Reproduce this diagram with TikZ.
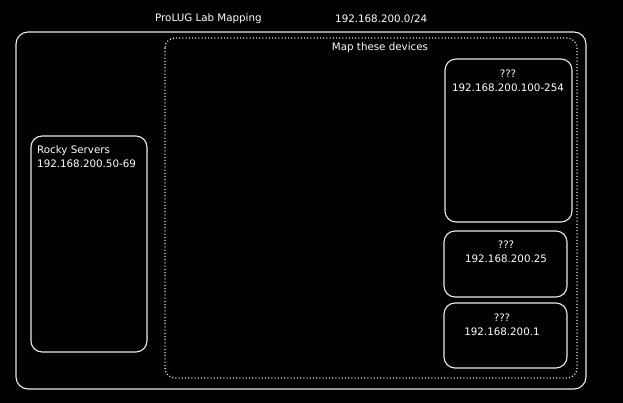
\documentclass[tikz,border=0pt]{standalone}
\usepackage{fontspec}
\setmainfont{DejaVu Sans}
\begin{document}
\begin{tikzpicture}[x=1pt,y=-1pt,
  every node/.style={text=white,font=\fontsize{10.3}{14}\selectfont,inner sep=0pt},
  frame/.style={draw=white!92!black,line width=1.1pt,rounded corners=12pt},
  dev/.style={draw=white!92!black,line width=1.1pt,rounded corners=11pt},
  dots/.style={draw=white!92!black,line width=1.3pt,dash pattern=on 1pt off 2.2pt,rounded corners=10pt}]
\fill[black] (0,0) rectangle (623,403);
\useasboundingbox (0,0) rectangle (623,403);
\node[anchor=west] (title) at (155,19) {ProLUG Lab Mapping};
\node[anchor=west] (net) at (335,19) {192.168.200.0/24};
\draw[frame] (16,32) rectangle (586,389);
\draw[dots] (165,38) rectangle (577,378);
\node (map) at (380,48) {Map these devices};
\draw[dev] (31,136) rectangle (147,352);
\node[anchor=west,align=left] (rocky) at (37,157) {Rocky Servers\\192.168.200.50-69};
\draw[dev] (445,59) rectangle (572,222);
\node[align=center] (d1) at (508,81) {???\\192.168.200.100-254};
\draw[dev] (444,231) rectangle (567,297);
\node[align=center] (d2) at (506,252) {???\\192.168.200.25};
\draw[dev] (444,303) rectangle (567,368);
\node[align=center] (d3) at (502,325) {???\\192.168.200.1};
\end{tikzpicture}
\end{document}
